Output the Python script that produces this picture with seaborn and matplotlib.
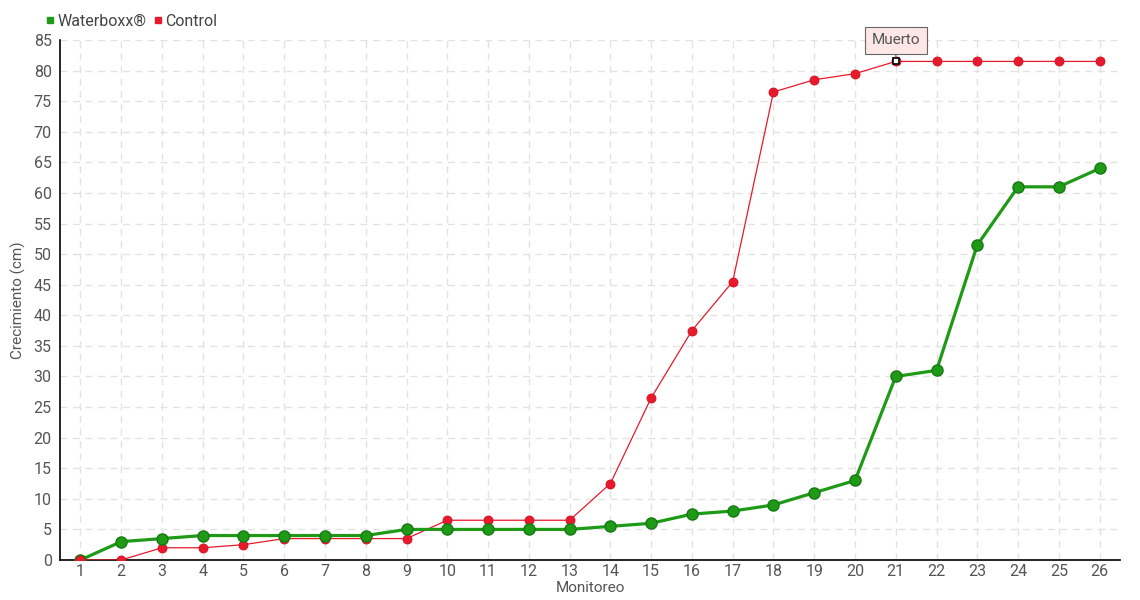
import matplotlib
matplotlib.use("Agg")
import matplotlib.pyplot as plt
import seaborn as sns
import pandas as pd
from matplotlib.lines import Line2D

monitoreo = list(range(1, 27))
waterboxx = [0, 3, 3.5, 4, 4, 4, 4, 4, 5, 5, 5, 5, 5, 5.5, 6, 7.5, 8, 9, 11, 13, 30, 31, 51.5, 61, 61, 64]
control = [0, 0, 2, 2, 2.5, 3.5, 3.5, 3.5, 3.5, 6.5, 6.5, 6.5, 6.5, 12.5, 26.5, 37.5, 45.5, 76.5, 78.5, 79.5, 81.5, 81.5, 81.5, 81.5, 81.5, 81.5]
series_names = ["Waterboxx®", "Control"]
y_ticks = list(range(0, 90, 5))
annot_text = "Muerto"
annot_index = 21

sns.set_theme(style="white")
plt.rcParams['font.family'] = ['Roboto', 'DejaVu Sans']

GREEN = "#1e9a16"
RED = "#e8192c"

df_w = pd.DataFrame({"Monitoreo": monitoreo, "v": waterboxx})
df_c = pd.DataFrame({"Monitoreo": monitoreo, "v": control})

fig = plt.figure(figsize=(11.4, 6), dpi=100)
ax = fig.add_axes([60/1140, 40/600, 1060/1140, 520/600])

sns.lineplot(data=df_c, x="Monitoreo", y="v", ax=ax, color=RED, linewidth=0.9,
             marker="o", markersize=6.5, markeredgecolor="#d01020", markeredgewidth=0.6, zorder=3)
sns.lineplot(data=df_w, x="Monitoreo", y="v", ax=ax, color=GREEN, linewidth=2.3,
             marker="o", markersize=8, markeredgecolor="#177a12", markeredgewidth=1, zorder=4)
ax.plot([monitoreo[0]], [control[0]], "o", color=RED, markersize=6.5, markeredgecolor="#d01020",
        markeredgewidth=0.6, zorder=5)

i = monitoreo.index(annot_index)
ax.plot([annot_index], [control[i]], "s", color="white", markeredgecolor="black",
        markersize=4.5, markeredgewidth=1.2, zorder=6)
ax.annotate(annot_text, xy=(annot_index, control[i]), xytext=(0, 21), textcoords="offset pixels",
            ha="center", va="center", fontsize=11, color="#555555",
            bbox=dict(boxstyle="square,pad=0.45", fc="#fde6e6", ec="#666666", lw=0.8),
            arrowprops=dict(arrowstyle="-", color="#666666", lw=0.8, shrinkA=0, shrinkB=3), zorder=7)

ax.set_xlim(0.5, 26.5)
ax.set_ylim(0, 85)
ax.set_xticks(monitoreo)
ax.set_yticks(y_ticks)
ax.grid(True, color="#e3e3e3", linestyle=(0, (5, 4)), linewidth=1)
ax.set_axisbelow(True)
for s in ["top", "right"]:
    ax.spines[s].set_visible(False)
for s in ["left", "bottom"]:
    ax.spines[s].set_color("black")
    ax.spines[s].set_linewidth(1.2)
ax.tick_params(axis="both", labelcolor="#555555", labelsize=11.5, color="black", width=1)
ax.tick_params(axis="x", direction="inout", length=6, pad=0)
ax.tick_params(axis="y", direction="out", length=4, pad=2)

ax.set_xlabel("Monitoreo", fontsize=11, color="#555555", labelpad=1)
ax.set_ylabel("Crecimiento (cm)", fontsize=11, color="#555555")
ax.yaxis.set_label_coords((26 - 60) / 1060, 0.5)

handles = [Line2D([], [], marker="s", linestyle="none", color=GREEN, markersize=4.5),
           Line2D([], [], marker="s", linestyle="none", color=RED, markersize=4.5)]
leg = fig.legend(handles, series_names, loc="upper left", bbox_to_anchor=(46/1140, 1 - 14/600),
                 ncol=2, frameon=False, fontsize=11.5, handlelength=0.5, handletextpad=0.2,
                 columnspacing=0.5, borderaxespad=0, borderpad=0)
for t in leg.get_texts():
    t.set_color("#444444")

fig.savefig("out.png", dpi=100)
